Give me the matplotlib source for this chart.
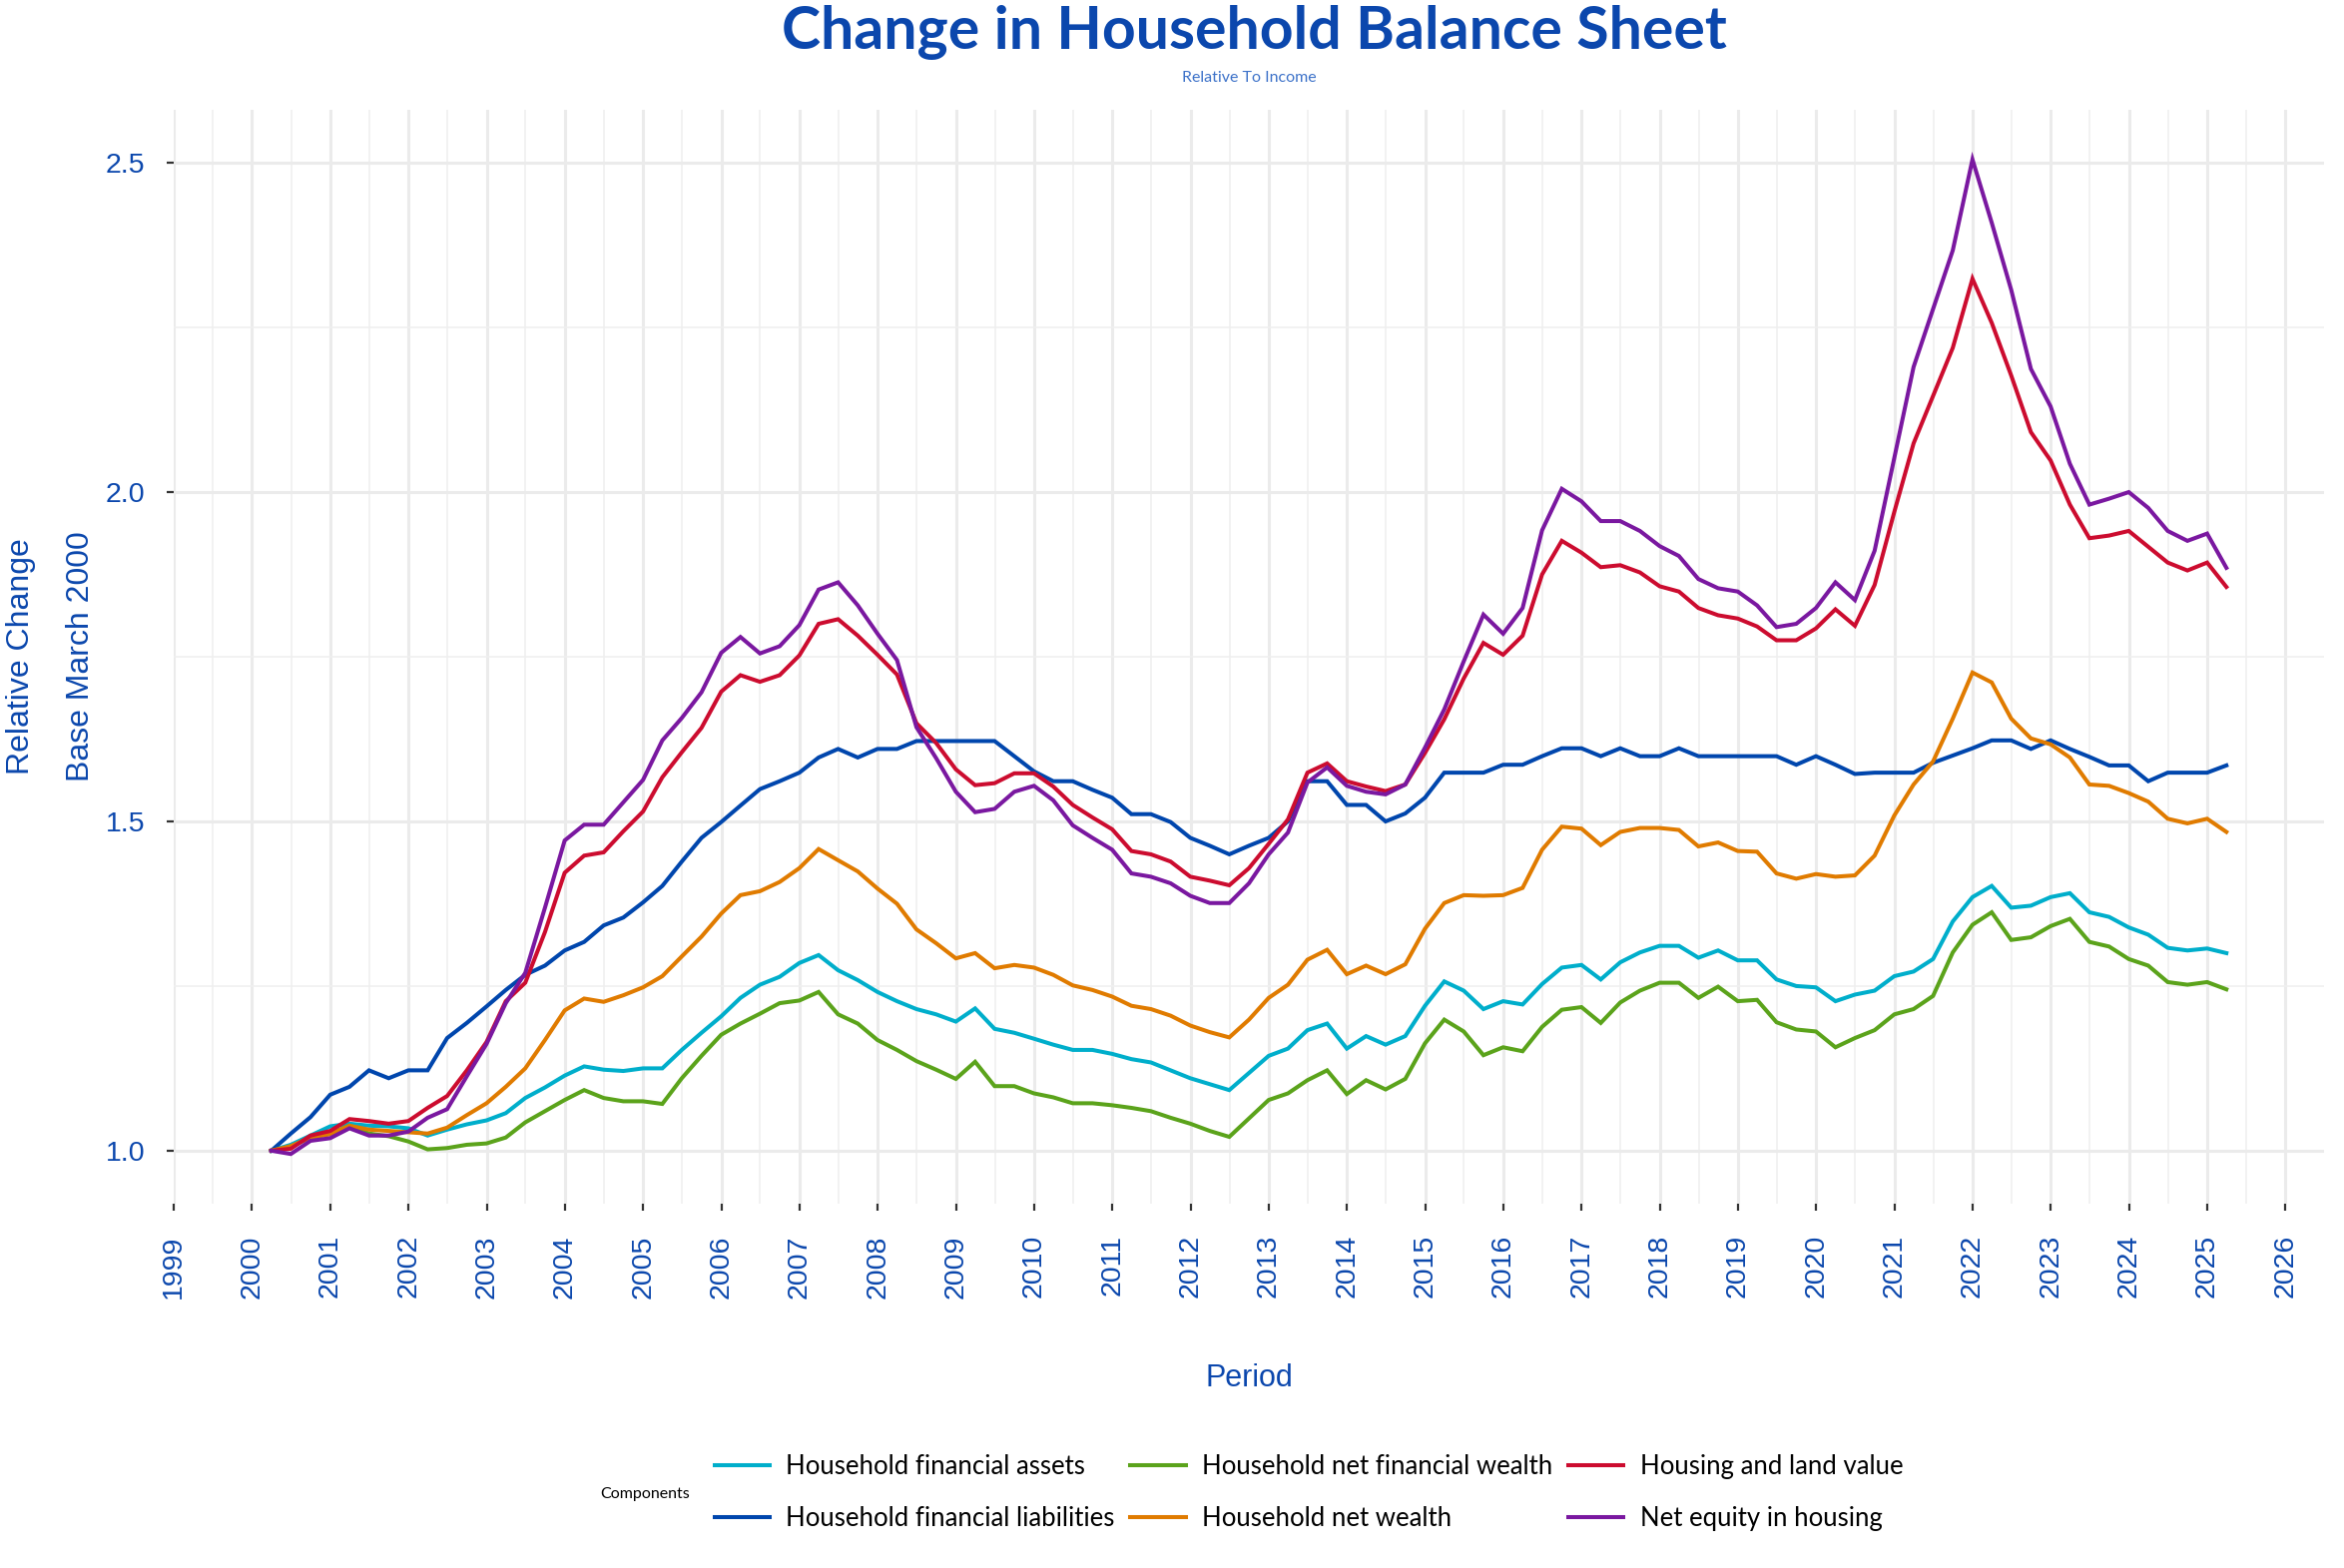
import pandas as pd
import matplotlib
matplotlib.use("Agg")
import matplotlib.pyplot as plt
import matplotlib.dates as mdates
from matplotlib.ticker import FixedLocator, FormatStrFormatter


# ==============================
# DATA (quarterly, base March 2000 = 1.0)
# ==============================
start_quarter = "2000-03-31"

assets = [
    1.0, 1.009, 1.023, 1.037, 1.041, 1.038, 1.037, 1.034, 1.023, 1.032,
    1.04, 1.046, 1.057, 1.08, 1.096, 1.114, 1.128, 1.123, 1.121, 1.125,
    1.125, 1.153, 1.179, 1.204, 1.232, 1.252, 1.264, 1.285,
    1.297, 1.274, 1.259, 1.241, 1.227, 1.215, 1.207, 1.196, 1.216, 1.185,
    1.179, 1.17, 1.161, 1.153, 1.153, 1.147, 1.139, 1.134, 1.122, 1.11,
    1.101, 1.092, 1.118, 1.144, 1.155, 1.183, 1.193,
    1.155, 1.174, 1.161, 1.174, 1.22, 1.257, 1.243, 1.215, 1.227, 1.222,
    1.253, 1.278, 1.282, 1.26, 1.286, 1.301, 1.311, 1.311, 1.293, 1.304,
    1.289, 1.289, 1.26, 1.25, 1.248, 1.227, 1.237,
    1.243, 1.265, 1.272, 1.291, 1.348, 1.385, 1.402, 1.369, 1.372, 1.385,
    1.391, 1.362, 1.355, 1.339, 1.328, 1.308, 1.304, 1.307, 1.3,
]

liabilities = [
    1.0, 1.026, 1.051, 1.085, 1.097, 1.122, 1.11, 1.122, 1.122, 1.171,
    1.194, 1.219, 1.244, 1.267, 1.281, 1.304, 1.317, 1.342, 1.354, 1.377,
    1.402, 1.439, 1.475, 1.499, 1.524, 1.549, 1.561, 1.574,
    1.597, 1.61, 1.597, 1.61, 1.61, 1.622, 1.622, 1.622, 1.622, 1.622,
    1.599, 1.576, 1.561, 1.561, 1.548, 1.536, 1.511, 1.511, 1.499, 1.475,
    1.463, 1.45, 1.463, 1.475, 1.5, 1.561, 1.561,
    1.525, 1.525, 1.5, 1.512, 1.536, 1.574, 1.574, 1.574, 1.586, 1.586,
    1.599, 1.611, 1.611, 1.599, 1.611, 1.599, 1.599, 1.611, 1.599, 1.599,
    1.599, 1.599, 1.599, 1.586, 1.599, 1.586, 1.572,
    1.574, 1.574, 1.574, 1.589, 1.6, 1.611, 1.623, 1.623, 1.61, 1.623,
    1.61, 1.598, 1.585, 1.585, 1.561, 1.574, 1.574, 1.574, 1.585,
]

net_fin_wealth = [
    1.0, 1.006, 1.02, 1.026, 1.038, 1.026, 1.022, 1.014, 1.002, 1.004,
    1.009, 1.011, 1.02, 1.043, 1.06, 1.077, 1.092, 1.08, 1.075, 1.075,
    1.071, 1.11, 1.144, 1.176, 1.193, 1.208, 1.224, 1.228,
    1.241, 1.207, 1.193, 1.168, 1.153, 1.136, 1.123, 1.109, 1.135, 1.098,
    1.098, 1.087, 1.081, 1.072, 1.072, 1.069, 1.065, 1.06, 1.05, 1.041,
    1.03, 1.021, 1.049, 1.077, 1.087, 1.107, 1.122,
    1.086, 1.107, 1.093, 1.109, 1.163, 1.199, 1.181, 1.145, 1.157, 1.151,
    1.188, 1.214, 1.218, 1.194, 1.225, 1.243, 1.255, 1.255, 1.232, 1.249,
    1.227, 1.229, 1.195, 1.184, 1.181, 1.157, 1.171,
    1.183, 1.207, 1.215, 1.235, 1.301, 1.343, 1.362, 1.32, 1.324, 1.341,
    1.352, 1.317, 1.31, 1.291, 1.281, 1.256, 1.252, 1.256, 1.245,
]

net_wealth = [
    1.0, 1.007, 1.02, 1.025, 1.038, 1.032, 1.03, 1.028, 1.026, 1.035,
    1.054, 1.072, 1.097, 1.125, 1.168, 1.213, 1.231, 1.226, 1.236, 1.248,
    1.265, 1.295, 1.325, 1.36, 1.388, 1.394, 1.408, 1.429,
    1.458, 1.441, 1.424, 1.398, 1.375, 1.336, 1.315, 1.292, 1.3, 1.277,
    1.282, 1.278, 1.267, 1.251, 1.244, 1.234, 1.22, 1.215, 1.205, 1.19,
    1.18, 1.172, 1.199, 1.232, 1.252, 1.29, 1.305,
    1.268, 1.281, 1.268, 1.283, 1.337, 1.376, 1.388, 1.387, 1.388, 1.399,
    1.457, 1.492, 1.489, 1.464, 1.484, 1.49, 1.49, 1.487, 1.462, 1.468,
    1.455, 1.454, 1.421, 1.413, 1.42, 1.416, 1.418,
    1.448, 1.509, 1.556, 1.591, 1.656, 1.726, 1.711, 1.656, 1.626, 1.617,
    1.597, 1.556, 1.554, 1.543, 1.53, 1.504, 1.497, 1.504, 1.484,
]

housing = [
    1.0, 1.003, 1.023, 1.03, 1.048, 1.045, 1.041, 1.045, 1.065, 1.083,
    1.122, 1.165, 1.227, 1.255, 1.332, 1.422, 1.448, 1.453, 1.485, 1.515,
    1.567, 1.605, 1.642, 1.697, 1.722, 1.712, 1.722, 1.752,
    1.8, 1.807, 1.782, 1.753, 1.723, 1.649, 1.619, 1.579, 1.555, 1.558,
    1.573, 1.573, 1.553, 1.525, 1.506, 1.488, 1.455, 1.45, 1.439, 1.416,
    1.41, 1.403, 1.429, 1.466, 1.503, 1.574, 1.588,
    1.561, 1.553, 1.546, 1.556, 1.604, 1.655, 1.717, 1.771, 1.753, 1.782,
    1.875, 1.926, 1.908, 1.886, 1.889, 1.878, 1.857, 1.849, 1.824, 1.813,
    1.808, 1.796, 1.775, 1.775, 1.793, 1.822, 1.797,
    1.859, 1.97, 2.074, 2.146, 2.219, 2.324, 2.257, 2.177, 2.091, 2.048,
    1.981, 1.93, 1.934, 1.941, 1.917, 1.893, 1.881, 1.893, 1.856,
]

net_equity = [
    1.0, 0.995, 1.015, 1.019, 1.034, 1.023, 1.023, 1.029, 1.05, 1.063,
    1.113, 1.162, 1.224, 1.27, 1.369, 1.471, 1.495, 1.495, 1.529, 1.563,
    1.623, 1.657, 1.696, 1.756, 1.78, 1.755, 1.766, 1.798,
    1.852, 1.863, 1.828, 1.785, 1.745, 1.643, 1.596, 1.545, 1.514, 1.519,
    1.545, 1.554, 1.532, 1.494, 1.475, 1.457, 1.421, 1.416, 1.406, 1.387,
    1.376, 1.376, 1.406, 1.45, 1.483, 1.559, 1.582,
    1.554, 1.545, 1.541, 1.556, 1.612, 1.67, 1.743, 1.814, 1.785, 1.824,
    1.942, 2.005, 1.986, 1.956, 1.956, 1.941, 1.918, 1.903, 1.868, 1.854,
    1.849, 1.828, 1.795, 1.8, 1.824, 1.863, 1.836,
    1.911, 2.052, 2.19, 2.278, 2.367, 2.505, 2.409, 2.307, 2.187, 2.13,
    2.043, 1.981, 1.99, 2.0, 1.976, 1.941, 1.926, 1.937, 1.885,
]

series_labels = [
    "Household financial assets",
    "Household financial liabilities",
    "Household net financial wealth",
    "Household net wealth",
    "Housing and land value",
    "Net equity in housing",
]
series_values = [assets, liabilities, net_fin_wealth, net_wealth, housing, net_equity]
series_colors = ["#00AECB", "#0046AD", "#5BA31B", "#E07B00", "#CC0C2F", "#7A18A0"]

y_ticks = [1.0, 1.5, 2.0, 2.5]
y_minor = [1.25, 1.75, 2.25]

BLUE = "#0B47AD"
ARIAL = ["Liberation Sans", "DejaVu Sans"]
LATO = ["Lato", "DejaVu Sans"]

W, H = 2348, 1571


# ==============================
# PLOT
# ==============================
dates = pd.date_range(start_quarter, periods=len(assets), freq=pd.offsets.QuarterEnd())

fig = plt.figure(figsize=(W / 100, H / 100), dpi=100)
left, right, top, bottom = 174, 2328, 110, 1206
ax = fig.add_axes([left / W, 1 - bottom / H, (right - left) / W, (bottom - top) / H])

for vals, lab, col in zip(series_values, series_labels, series_colors):
    ax.plot(dates, vals, color=col, lw=2.9, label=lab, solid_joinstyle="miter")

ax.set_xlim(pd.Timestamp("1998-12-31"), pd.Timestamp("2026-06-30"))
ax.set_ylim(0.9195, 2.5805)

ax.xaxis.set_major_locator(mdates.YearLocator(1))
ax.xaxis.set_major_formatter(mdates.DateFormatter("%Y"))
ax.xaxis.set_minor_locator(mdates.MonthLocator(bymonth=7))
ax.yaxis.set_major_locator(FixedLocator(y_ticks))
ax.yaxis.set_minor_locator(FixedLocator(y_minor))
ax.yaxis.set_major_formatter(FormatStrFormatter("%.1f"))

ax.set_axisbelow(True)
ax.grid(which="major", color="#EBEBEB", lw=2.2)
ax.grid(which="minor", color="#EFEFEF", lw=1.1)
for sp in ax.spines.values():
    sp.set_visible(False)

ax.tick_params(which="major", length=5, width=1.6, color="#333333", labelcolor=BLUE)
ax.tick_params(which="minor", length=0)
ax.tick_params(axis="x", pad=17.5, labelrotation=90)
ax.tick_params(axis="y", pad=15.5)
for t in ax.get_xticklabels() + ax.get_yticklabels():
    t.set_fontfamily(ARIAL)
    t.set_fontsize(20.5)

ax.set_xlabel("Period", fontsize=22, color=BLUE, family=ARIAL)
ax.xaxis.set_label_coords(0.5, -(1366 - bottom) / (bottom - top))
ax.set_ylabel("Relative Change\nBase March 2000", fontsize=23, color=BLUE,
              family=ARIAL, linespacing=2.3)
ax.yaxis.set_label_coords(-(174 - 96) / (right - left), 0.5)

# title + subtitle
fig.text(1256 / W, 1 - 49 / H, "Change in Household Balance Sheet",
         ha="center", va="baseline", fontsize=42.5, fontweight="bold",
         color=BLUE, family=LATO)
fig.text(1251 / W, 1 - 82 / H, "Relative To Income",
         ha="center", va="baseline", fontsize=11.5, color="#3D72C9", family=LATO)

# legend
leg = ax.legend(loc="center", bbox_to_anchor=(1311 / W, 1 - 1495.5 / H),
                bbox_transform=fig.transFigure, ncol=3, frameon=False,
                prop={"family": LATO, "size": 18.5}, handlelength=2.15,
                handletextpad=0.65, columnspacing=0.6, labelspacing=1.04,
                borderpad=0)
fig.text(601 / W, 1 - 1497 / H, "Components", ha="left", va="center",
         fontsize=11.5, color="black", family=LATO)

fig.savefig("out.png", dpi=100)
